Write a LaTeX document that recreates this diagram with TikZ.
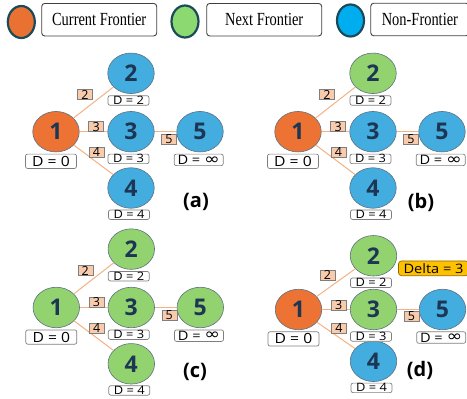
\documentclass[tikz,border=0pt]{standalone}
\usepackage{fontspec}
\usepackage{graphicx}
\usetikzlibrary{shapes.geometric}

\newfontfamily\legendfont[FakeStretch=0.78]{Liberation Serif}
\newfontfamily\labelfont{Open Sans}
\newfontfamily\distfont[FakeStretch=1.12]{Open Sans}
\newfontfamily\symfont{DejaVu Sans}

\definecolor{curfill}{HTML}{EC7333}
\definecolor{nextfill}{HTML}{92D36F}
\definecolor{nonfill}{HTML}{43ADE0}
\definecolor{legorange}{HTML}{E97132}
\definecolor{leggreen}{HTML}{8BD970}
\definecolor{legblue}{HTML}{00AEEF}
\definecolor{legline}{HTML}{1B4A5A}
\definecolor{nodeline}{HTML}{5D7080}
\definecolor{numtext}{HTML}{1C3654}
\definecolor{boxline}{HTML}{7F7F7F}
\definecolor{edgecol}{HTML}{F4B183}
\definecolor{wfill}{HTML}{F8CBAD}
\definecolor{deltafill}{HTML}{FFC000}
\definecolor{deltaline}{HTML}{8A6A00}

\tikzset{
  gnode/.style={ellipse, draw=nodeline, line width=0.6pt,
    minimum width=46.5pt, minimum height=40.5pt, inner sep=0pt,
    font=\labelfont\bfseries\fontsize{23}{23}\selectfont, text=numtext},
  dist/.style={draw=boxline, line width=0.7pt, fill=white, rounded corners=2pt,
    inner sep=0pt, minimum width=41pt, minimum height=9.5pt, anchor=north,
    font=\distfont\fontsize{11.5}{11.5}\selectfont},
  bigdist/.style={dist, minimum width=51pt, minimum height=14.3pt,
    font=\distfont\fontsize{14}{14}\selectfont},
  infdist/.style={dist, minimum width=49pt, minimum height=11.5pt,
    font=\distfont\fontsize{13}{13}\selectfont},
  wlabel/.style={draw=boxline, fill=wfill, line width=0.6pt, inner sep=0pt,
    minimum width=15pt, minimum height=10pt,
    font=\labelfont\fontsize{12.5}{12.5}\selectfont},
  edge/.style={draw=edgecol, line width=1pt},
  tag/.style={font=\labelfont\bfseries\fontsize{20}{20}\selectfont},
  legdot/.style={ellipse, draw=legline, line width=2.2pt,
    minimum width=27pt, minimum height=32pt, inner sep=0pt},
  legbox/.style={draw=black!75, rounded corners=3pt, line width=0.9pt,
    minimum width=115pt, minimum height=32.5pt, inner sep=0pt,
    font=\legendfont\fontsize{18.5}{18.5}\selectfont},
  deltabox/.style={draw=deltaline, fill=deltafill, rounded corners=3pt,
    line width=0.7pt, minimum width=70pt, minimum height=14.7pt, inner sep=0pt,
    font=\distfont\fontsize{13}{13}\selectfont},
}

% wide infinity sign for the unreached distance
\newcommand\widenf{\raisebox{0.3pt}{\scalebox{1.45}[1.2]{\symfont ∞}}}

% One five-vertex graph; #1 name prefix, #2..#6 fills of vertices 1..5
\newcommand\bfspanel[6]{%
  \node[gnode, fill=#2] (#1n1) at (0,0) {1};
  \node[gnode, fill=#3] (#1n2) at (75,-58.4) {2};
  \node[gnode, fill=#4] (#1n3) at (75,0) {3};
  \node[gnode, fill=#5] (#1n4) at (75,56.3) {4};
  \node[gnode, fill=#6] (#1n5) at (144,0) {5};
  \draw[edge] (#1n1) -- (#1n2);
  \draw[edge] (#1n1) -- (#1n3);
  \draw[edge] (#1n1) -- (#1n4);
  \draw[edge] (#1n3) -- (#1n5);
  \node[wlabel] (#1w2) at (29,-37) {2};
  \node[wlabel] (#1w3) at (40.2,-5) {3};
  \node[wlabel] (#1w4) at (40.4,20.5) {4};
  \node[wlabel] (#1w5) at (113,7.5) {5};
  \node[bigdist] (#1d1) at ([xshift=-5pt, yshift=-1.5pt]#1n1.south) {D = 0};
  \node[dist] (#1d2) at ([xshift=-2.5pt, yshift=-1.5pt]#1n2.south) {D = 2};
  \node[dist] (#1d3) at ([xshift=-2.5pt, yshift=-1.5pt]#1n3.south) {D = 3};
  \node[dist] (#1d4) at ([xshift=-2pt, yshift=-1pt]#1n4.south) {D = 4};
  \node[infdist] (#1d5) at ([xshift=-1.3pt, yshift=-1.5pt]#1n5.south) {D = \widenf};
}

\begin{document}
\begin{tikzpicture}[x=1pt, y=-1pt]
  \useasboundingbox (0,0) rectangle (467,399);
  \clip (0,0) rectangle (467,399);

  % legend
  \node[legdot, fill=legorange] (lcur) at (21.3,22) {};
  \node[legbox] (tcur) at (99.2,19.7) {Current Frontier};
  \node[legdot, fill=leggreen] (lnext) at (185,21.5) {};
  \node[legbox] (tnext) at (264.2,19.7) {Next Frontier};
  \node[legdot, fill=legblue] (lnon) at (350.5,20.5) {};
  \node[legbox, minimum width=98.3pt] (tnon) at (419.9,19.5) {Non-Frontier};

  % (a) initial state
  \begin{scope}[shift={(56,131.7)}]
    \bfspanel{a}{curfill}{nonfill}{nonfill}{nonfill}{nonfill}
  \end{scope}
  \node[tag] (taga) at (196,202) {(a)};

  % (b)
  \begin{scope}[shift={(298,131.7)}]
    \bfspanel{b}{curfill}{nextfill}{nonfill}{nonfill}{nonfill}
  \end{scope}
  \node[tag] (tagb) at (421,202) {(b)};

  % (c)
  \begin{scope}[shift={(56.3,307.5)}]
    \bfspanel{c}{nextfill}{nextfill}{nextfill}{nextfill}{nextfill}
  \end{scope}
  \node[tag] (tagc) at (195,372) {(c)};

  % (d) with the bucket width
  \begin{scope}[shift={(298.5,309.5)}, yscale=0.92]
    \bfspanel{d}{curfill}{nextfill}{nextfill}{nonfill}{nonfill}
  \end{scope}
  \node[tag] (tagd) at (420,370) {(d)};
  \node[deltabox] (delta) at (433.5,268.3) {Delta = 3};
\end{tikzpicture}
\end{document}
